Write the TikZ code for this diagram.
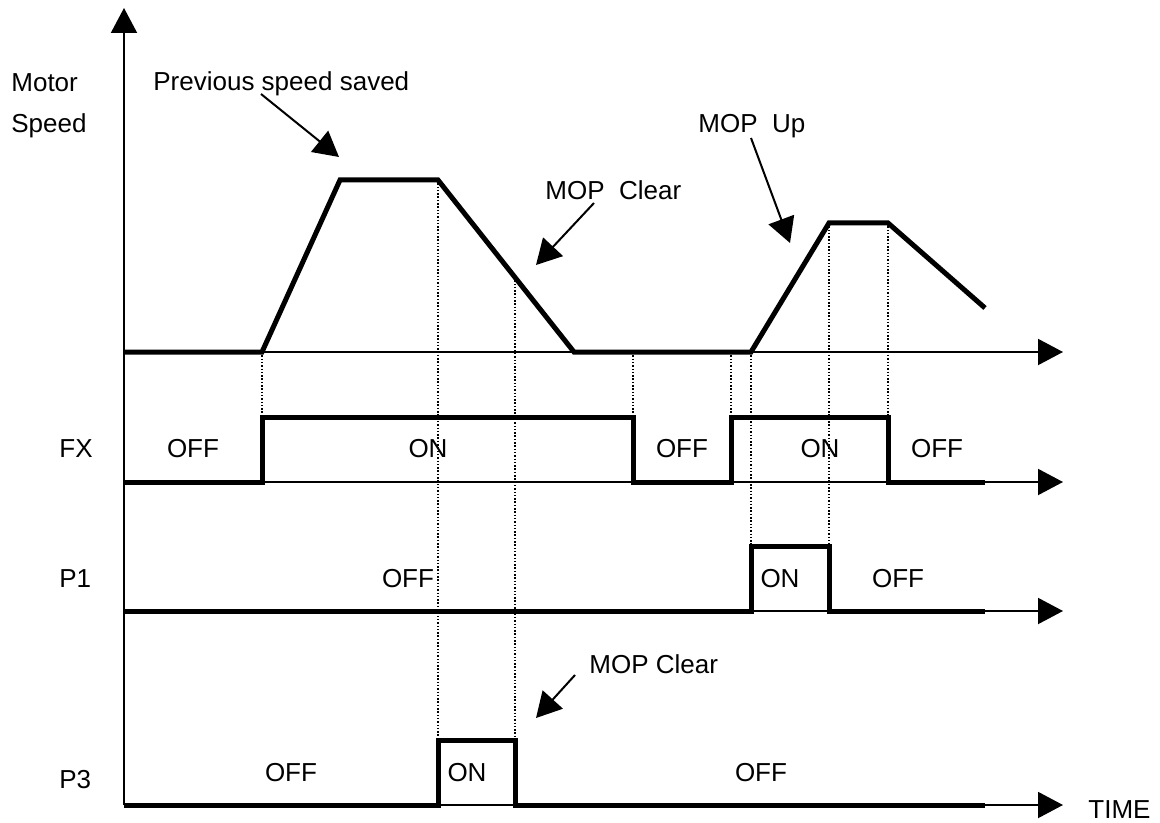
\documentclass[tikz,border=0pt]{standalone}
\usepackage{fontspec}
\setmainfont{Liberation Sans}
\usetikzlibrary{arrows.meta}
\tikzset{
  % ---- axes and waveforms ---------------------------------------------
  axisline/.style={draw=black, line width=1pt},
  axisarrow/.style={axisline, -{Triangle[length=12.5pt,width=13pt]}},
  wave/.style={draw=black, line width=2.5pt, line join=miter},
  guide/.style={draw=black, line width=0.75pt, dash pattern=on 0.75pt off 0.9pt},
  % ---- text and callouts ----------------------------------------------
  sig/.style={font=\fontsize{13pt}{15pt}\selectfont, anchor=base, inner sep=0pt},
  sigleft/.style={sig, anchor=base west},
  callout/.style={draw=black, line width=1pt,
                  -{Triangle[length=12.5pt,width=13.5pt]}},
}

\begin{document}
\begin{tikzpicture}[x=0.5pt, y=-0.5pt]
\useasboundingbox (0,0) rectangle (1160,823);

\def\ax{124}    % vertical axis x
\def\tip{1063}  % time arrows end
\def\ys{352}    % speed zero line
\def\fxl{482}  \def\fxh{417}   % FX low / high
\def\pal{611}  \def\pah{546}   % P1 low / high
\def\pcl{805}  \def\pch{740}   % P3 low / high

% ---- dotted guides ---------------------------------------------------
\foreach \gx/\ga/\gb in {262/\ys/\fxh, 438/180/\pch, 515/277/\pch,
                         633/\ys/\fxh, 731/\ys/\fxh, 751/\ys/\pah,
                         829/223/\pah, 888/223/\fxh}{
  \draw[guide] (\gx,\ga) -- (\gx,\gb);
}

% ---- axes ------------------------------------------------------------
\coordinate (orig) at (\ax,\pcl);
\coordinate (top) at (\ax,8);
\draw[axisarrow] (orig) -- (top);
\foreach \yy/\nm in {\ys/spd, \fxl/fx, \pal/pa, \pcl/pc}{
  \coordinate (\nm0) at (\ax,\yy);
  \coordinate (\nm1) at (\tip,\yy);
  \draw[axisarrow] (\nm0) -- (\nm1);
}

% ---- motor speed -----------------------------------------------------
\draw[wave] (\ax,\ys) -- (262,\ys) -- (340,180) -- (438,180) -- (574,\ys)
  -- (751,\ys) -- (829,223) -- (888,223) -- (985,308);

% ---- FX --------------------------------------------------------------
\draw[wave] (\ax,\fxl) -- (262,\fxl) -- (262,\fxh) -- (633,\fxh) -- (633,\fxl)
  -- (731,\fxl) -- (731,\fxh) -- (888,\fxh) -- (888,\fxl) -- (985,\fxl);

% ---- P1 --------------------------------------------------------------
\draw[wave] (\ax,\pal) -- (751,\pal) -- (751,\pah) -- (829,\pah) -- (829,\pal)
  -- (985,\pal);

% ---- P3 --------------------------------------------------------------
\draw[wave] (\ax,\pcl) -- (438,\pcl) -- (438,\pch) -- (515,\pch) -- (515,\pcl)
  -- (985,\pcl);

% ---- row names -------------------------------------------------------
\node[sigleft] (motor) at (11,92) {Motor};
\node[sigleft] (speed) at (11,133) {Speed};
\node[sigleft] (fx) at (59,457) {FX};
\node[sigleft] (p1) at (59,587) {P1};
\node[sigleft] (p3) at (59,788) {P3};
\node[sigleft] (time) at (1088,818) {TIME};

% ---- states ----------------------------------------------------------
\foreach \sx/\sy/\lab [count=\i] in {193/457/OFF, 428/457/ON, 682/457/OFF,
    820/457/ON, 937/457/OFF, 408/587/OFF, 780/587/ON, 898/587/OFF,
    291/781/OFF, 467/781/ON, 761/781/OFF}{
  \node[sig] (state\i) at (\sx,\sy) {\lab};
}

% ---- callouts --------------------------------------------------------
\node[sigleft] (prev) at (153,91) {Previous speed saved};
\node[sigleft] (clrup) at (545,200) {MOP\ \ Clear};
\node[sigleft] (mopup) at (698,133) {MOP\ \ Up};
\node[sigleft] (clrlow) at (589,673) {MOP Clear};

\coordinate (prevfoot) at (261,94);   \coordinate (prevtip) at (339,157);
\coordinate (clrfoot) at (594,203);   \coordinate (clrtip) at (536,265);
\coordinate (upfoot) at (751,138);    \coordinate (uptip) at (790,243);
\coordinate (lowfoot) at (575,675);   \coordinate (lowtip) at (536,718);
\draw[callout] (prevfoot) -- (prevtip);
\draw[callout] (clrfoot) -- (clrtip);
\draw[callout] (upfoot) -- (uptip);
\draw[callout] (lowfoot) -- (lowtip);

\end{tikzpicture}
\end{document}
